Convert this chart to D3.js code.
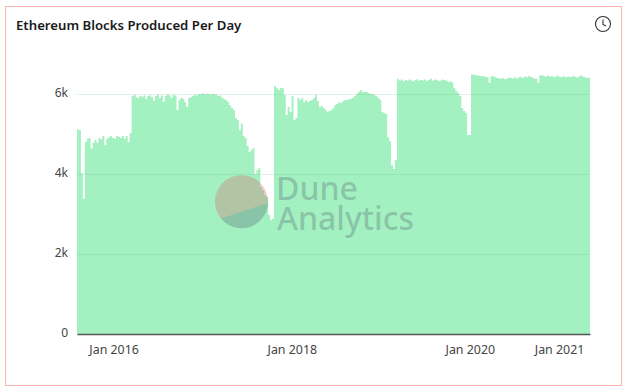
<!DOCTYPE html>
<html>
<head>
<meta charset="utf-8">
<script src="https://cdn.jsdelivr.net/npm/d3@7"></script>
<style>
  body { margin: 0; background: #fff; }
  text { font-family: "Noto Sans", Roboto, sans-serif; }
</style>
</head>
<body>
<div id="chart"></div>
<script>
// one reading every 8 days
const startDate = new Date(2015, 7, 4);
const blocksPerDay = [
  5120,5100,4020,3380,4800,4880,4900,4640,4780,4850,
  4780,4900,4870,4950,4720,4880,4920,4950,4900,4880,
  4950,4930,4900,4950,4880,4950,4800,5020,
  5950,5980,5920,5900,5950,5930,5960,5880,5950,5970,
  5920,5830,5950,5980,5900,5960,5800,5950,5990,5960,
  5900,5980,5960,5600,5850,5900,5880,5800,5680,5900,
  5920,5950,5980,5960,6000,5990,6020,5990,6000,6000,
  5980,6000,6000,5990,5950,5960,5900,5870,5850,5800,
  5720,5650,5600,5400,5350,5100,5260,4950,4900,4700,
  4550,4600,4650,4000,4100,4150,3675,3600,3475,3425,
  2975,2850,2880,
  6200,6150,6100,6150,6150,5975,5475,5675,5550,5950,
  5350,5400,5900,5850,5900,5800,5850,5800,5825,5850,
  5900,5975,5825,5675,5700,5650,5600,5550,5575,5600,
  5650,5725,5750,5800,5775,5825,5850,5850,5875,5875,
  5900,5950,6000,6050,6100,6050,6050,6050,6025,6000,
  6000,5975,5950,5900,5850,5550,5525,5500,4925,4825,
  4225,4125,4350,
  6380,6340,6360,6320,6350,6330,6360,6340,6310,6350,
  6370,6330,6350,6340,6360,6320,6350,6380,6340,6360,
  6350,6320,6340,6360,6350,6330,6300,6320,6280,
  6150,6075,6025,5950,5650,5575,5525,4975,4975,
  6490,6480,6460,6470,6450,6440,6450,6430,6420,6280,
  6440,6450,6420,6400,6390,6380,6400,6370,6390,6410,
  6400,6380,6420,6390,6410,6430,6400,6440,6420,6450,
  6430,6410,6390,6380,6280,6460,6470,6450,6440,6460,
  6430,6450,6420,6440,6460,6430,6420,6450,6410,6430,
  6440,6420,6450,6430,6410,6440,6460,6430,6420,6400,6410,6410
];
const yTicks = [0, 2000, 4000, 6000];
const xTicks = [new Date(2016, 0, 1), new Date(2018, 0, 1), new Date(2020, 0, 1), new Date(2021, 0, 1)];

const svgWidth = 627;
const svgHeight = 392;
const margin = { top: 60, right: 37, bottom: 58, left: 77 };
const width = svgWidth - margin.left - margin.right;
const height = svgHeight - margin.top - margin.bottom;

const data = blocksPerDay.map((v, i) => ({ date: d3.timeDay.offset(startDate, i * 8), blocks: v }));

const svg = d3.select("#chart").append("svg")
  .attr("width", svgWidth)
  .attr("height", svgHeight)
  .style("display", "block");

// card border
svg.append("rect")
  .attr("x", 5.5).attr("y", 6.5)
  .attr("width", 616).attr("height", 379)
  .attr("fill", "#fff")
  .attr("stroke", "#ffb5ac");

svg.append("text")
  .attr("x", 16).attr("y", 30)
  .attr("font-size", 13.2)
  .attr("font-weight", 600)
  .attr("fill", "#1a1a1a")
  .text("Ethereum Blocks Produced Per Day");

// clock icon
const clock = svg.append("g").attr("transform", "translate(603,24)")
  .attr("fill", "none").attr("stroke", "#333");
clock.append("circle").attr("r", 7.5).attr("stroke-width", 1.1);
clock.append("path").attr("d", "M0,-4.5V0.5L3,2").attr("stroke-width", 1.1);

const chartGroup = svg.append("g")
  .attr("transform", `translate(${margin.left}, ${margin.top})`);

const xScale = d3.scaleTime()
  .domain(d3.extent(data, d => d.date))
  .range([0, width]);
const yScale = d3.scaleLinear()
  .domain([0, 6850])
  .range([height, 0]);

const area = d3.area()
  .x(d => xScale(d.date))
  .y0(height)
  .y1(d => yScale(d.blocks))
  .curve(d3.curveStepAfter);

chartGroup.append("path")
  .datum(data)
  .attr("d", area)
  .attr("fill", "#a3f0c0");

// gridlines sit on top of the area
chartGroup.append("g").selectAll("line")
  .data(yTicks.slice(1))
  .enter().append("line")
  .attr("x1", 0).attr("x2", width)
  .attr("y1", d => Math.round(yScale(d)) + 0.5)
  .attr("y2", d => Math.round(yScale(d)) + 0.5)
  .attr("stroke", "#5fb88c")
  .attr("stroke-opacity", 0.2);

const yAxis = d3.axisLeft(yScale)
  .tickValues(yTicks)
  .tickSize(0)
  .tickPadding(9)
  .tickFormat(d => d === 0 ? "0" : (d / 1000) + "k");
const yG = chartGroup.append("g").call(yAxis);
yG.select(".domain").remove();
yG.selectAll("text").attr("font-size", 12).attr("fill", "#444").attr("dy", "0.2em");

const xAxis = d3.axisBottom(xScale)
  .tickValues(xTicks)
  .tickSize(0)
  .tickPadding(11)
  .tickFormat(d3.timeFormat("%b %Y"));
const xG = chartGroup.append("g")
  .attr("transform", `translate(0, ${height})`)
  .call(xAxis);
xG.select(".domain").attr("stroke", "#555").attr("stroke-width", 1.3);
xG.selectAll("text").attr("font-size", 12.4).attr("fill", "#444");

// Dune watermark
const mark = svg.append("g").attr("transform", "translate(242,203.5)");
mark.append("path")
  .attr("d", "M-21,15 A26.5,26.5 0 1 1 26,-0.5 Z")
  .attr("fill", "#e44050").attr("fill-opacity", 0.25);
mark.append("path")
  .attr("d", "M-21,15 A26.5,26.5 0 0 0 26,-0.5 Z")
  .attr("fill", "#404060").attr("fill-opacity", 0.25);
const word = svg.append("text")
  .attr("font-size", 32).attr("font-weight", 500)
  .attr("fill", "#404060").attr("fill-opacity", 0.25);
word.append("tspan").attr("x", 276).attr("y", 200).text("Dune");
word.append("tspan").attr("x", 277).attr("y", 230).text("Analytics");
</script>
</body>
</html>
